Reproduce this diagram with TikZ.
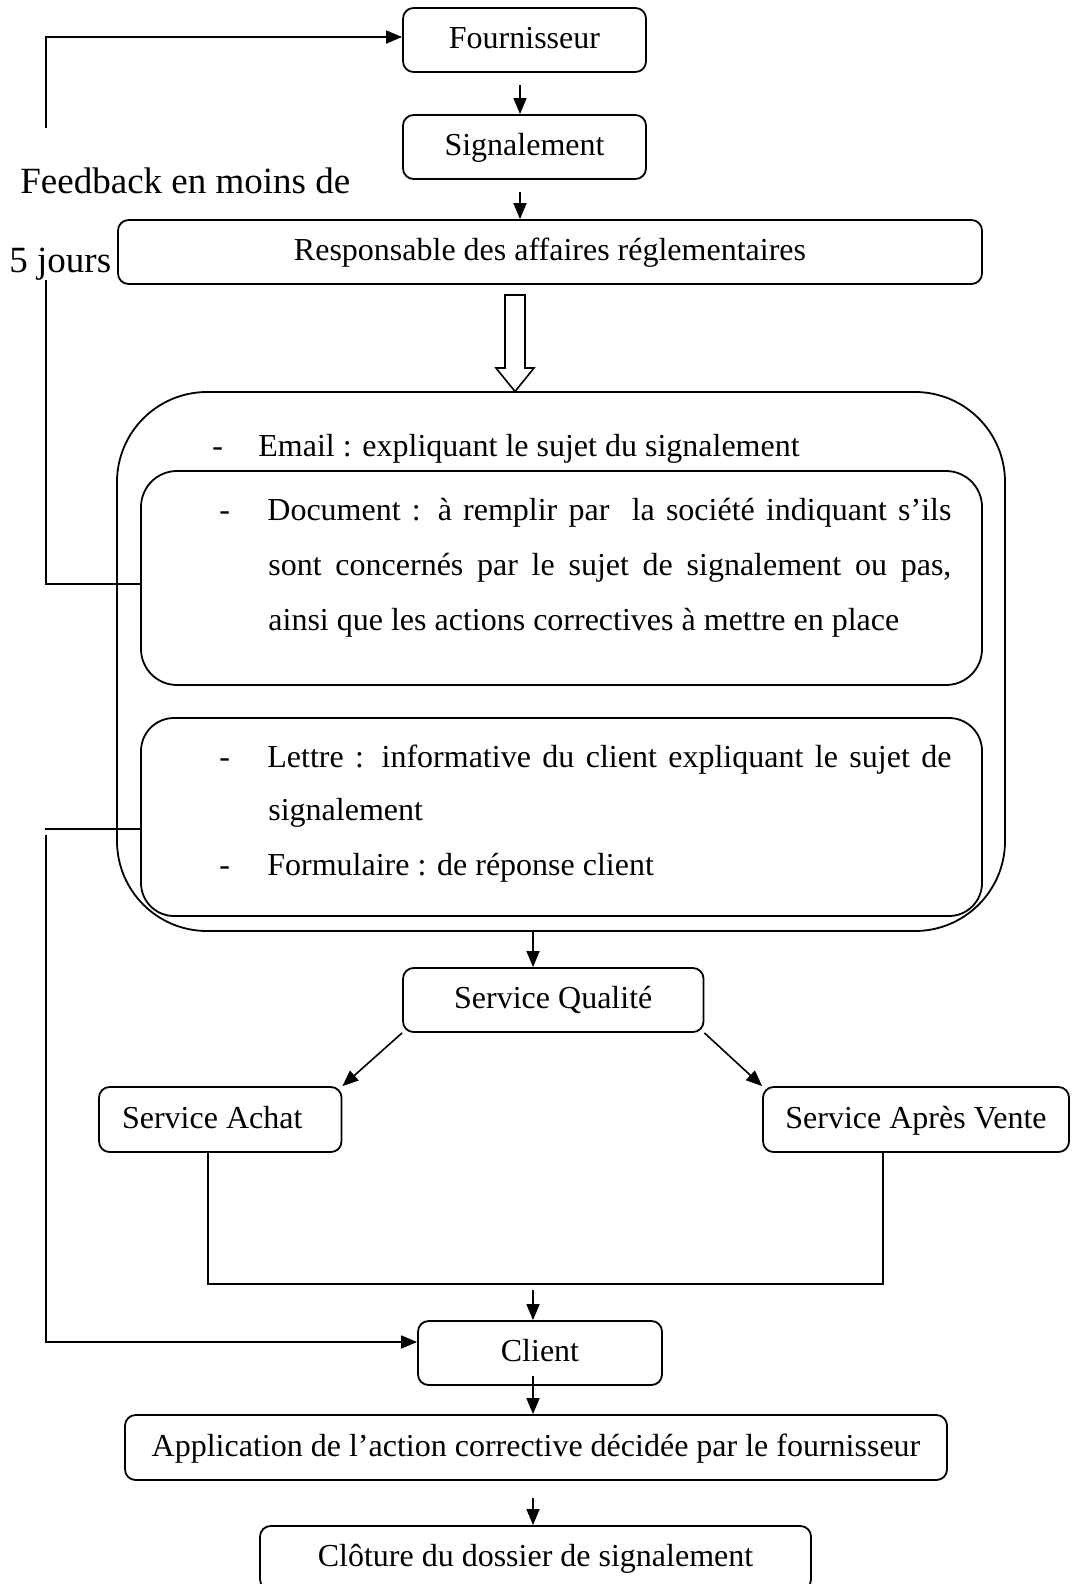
\documentclass[tikz,border=0pt]{standalone}
\usepackage{fontspec}
\setmainfont{Liberation Serif}
\usetikzlibrary{arrows.meta}

\tikzset{
  txt/.style={font=\fontsize{16}{19}\selectfont},
  stepbox/.style={draw, line width=0.9pt, rounded corners=5.3pt, inner sep=0pt,
    text height=11.2pt, text depth=2.7pt, txt},
  bigbox/.style={draw, line width=0.9pt, inner sep=0pt},
  line/.style={line width=0.8pt},
  arr/.style={line, -{Triangle[length=8pt,width=6.5pt]}},
  item/.style={anchor=base west, inner sep=0pt, txt},
  note/.style={anchor=base west, inner sep=0pt, font=\fontsize{18.5}{22}\selectfont},
}

\begin{document}
\begin{tikzpicture}[x=0.5pt,y=-0.5pt]
\useasboundingbox (0,0) rectangle (1071,1584);

% main chain of steps
\node[stepbox, minimum width=121.5pt, minimum height=32pt] (four) at (524.5,40) {Fournisseur};
\node[stepbox, minimum width=121.5pt, minimum height=32pt] (sig) at (524.5,147) {Signalement};
\node[stepbox, minimum width=432pt, minimum height=32pt] (resp) at (550,252) {Responsable des affaires réglementaires};

% the documents sent out
\node[bigbox, rounded corners=45pt, minimum width=444pt, minimum height=269.5pt] (outer) at (561,661.5) {};
\node[bigbox, rounded corners=18pt, minimum width=420.5pt, minimum height=107pt] (inner1) at (561.5,578) {};
\node[bigbox, rounded corners=16.5pt, minimum width=420.5pt, minimum height=99pt] (inner2) at (561.5,817) {};

\node[item] (d0) at (212,456) {-};
\node[item] (email) at (258,456) {Email : expliquant le sujet du signalement};
\node[item] (d1) at (219,520) {-};
\node[item] (doc1) at (267,520) {\makebox[342pt][s]{Document : à remplir par\ \ la société indiquant s’ils}};
\node[item] (doc2) at (268,575) {\makebox[341.5pt][s]{sont concernés par le sujet de signalement ou pas,}};
\node[item] (doc3) at (268,630) {ainsi que les actions correctives à mettre en place};
\node[item] (d2) at (219,767) {-};
\node[item] (let1) at (267,767) {\makebox[342pt][s]{Lettre : informative du client expliquant le sujet de}};
\node[item] (let2) at (268,820) {signalement};
\node[item] (d3) at (219,875) {-};
\node[item] (form) at (267,875) {Formulaire : de réponse client};

% services and closing steps
\node[stepbox, minimum width=150.25pt, minimum height=32pt] (sq) at (553.25,1000) {Service Qualité};
\node[stepbox, minimum width=121.25pt, minimum height=32.5pt] (achat) at (220.25,1119.5) {Service Achat\hspace*{8pt}};
\node[stepbox, minimum width=153pt, minimum height=32.5pt] (apv) at (916,1119.5) {Service Après Vente};
\node[stepbox, minimum width=122pt, minimum height=32pt] (client) at (540,1353) {Client};
\node[stepbox, minimum width=411pt, minimum height=32.5pt] (appl) at (536,1447.5) {Application de l’action corrective décidée par le fournisseur};
\node[stepbox, minimum width=275.5pt, minimum height=32pt] (clot) at (535.5,1558) {Clôture du dossier de signalement};

% feedback label
\node[note] (fb1) at (20,193) {Feedback en moins de};
\node[note] (fb2) at (9,272) {5 jours};

% connectors
\draw[arr] ([shift={(-4.5,12)}]four.south) -- ([xshift=-2.25pt]sig.north);
\draw[arr] ([shift={(-4.5,12)}]sig.south) -- ([xshift=-15pt]resp.north);

% hollow block arrow
\draw[line] (505,295) -- (525,295) -- (525,368) -- (534,368) -- (515,391.5)
  -- (496,368) -- (505,368) -- cycle;

\draw[arr] ([xshift=-14pt]outer.south) -- ([xshift=-10.1pt]sq.north);
\draw[arr] (sq.south west) -- (achat.north east);
\draw[arr] (sq.south east) -- (apv.north west);

\coordinate (join) at (533,1290);
\draw[line] ([xshift=-6pt]achat.south) -- ++(0,131) -| ([xshift=-16.5pt]apv.south);
\draw[arr] (join) -- (join |- client.north);

\draw[arr] ([shift={(-7,-10)}]client.south) -- ([xshift=-1.5pt]appl.north);
\draw[arr] ([shift={(-3,17)}]appl.south) -- ([xshift=-1.25pt]clot.north);

% feedback loop to the supplier
\coordinate (fbtop) at (46,128);
\coordinate (fbbot) at (46,280);
\draw[arr] (fbtop) |- ([yshift=1.5pt]four.west);
\draw[line] (fbbot) |- ([yshift=-3pt]inner1.west);

% letter and form go to the client
\coordinate (clA) at (44.6,829);
\coordinate (clB) at (46,835);
\draw[line] ([yshift=-6pt]inner2.west) -- (clA);
\draw[arr] (clB) |- ([yshift=5.5pt]client.west);
\end{tikzpicture}
\end{document}
